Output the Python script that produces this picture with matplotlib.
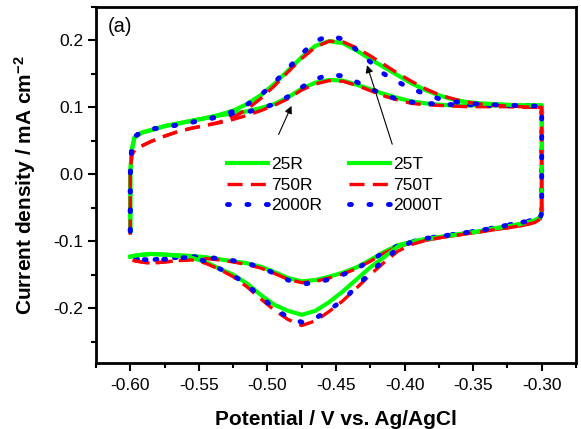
import matplotlib
matplotlib.use("Agg")
import matplotlib.pyplot as plt

plt.rcParams['font.family'] = ['Liberation Sans', 'DejaVu Sans']
plt.rcParams['axes.unicode_minus'] = False
plt.rcParams['mathtext.fontset'] = 'custom'
plt.rcParams['mathtext.rm'] = 'Liberation Sans'
plt.rcParams['mathtext.bf'] = 'Liberation Sans:bold'

# ── Potential grids (V vs. Ag/AgCl) ───────────────────────
x_fwd = [-0.600, -0.600, -0.599, -0.597, -0.592, -0.585, -0.575, -0.565, -0.555, -0.545,
         -0.535, -0.525, -0.515, -0.505, -0.495, -0.485, -0.475, -0.465, -0.455, -0.445,
         -0.435, -0.425, -0.415, -0.405, -0.395, -0.385, -0.375, -0.365, -0.355, -0.345,
         -0.335, -0.325, -0.315, -0.305, -0.300]
x_rev = [-0.300, -0.300, -0.301, -0.305, -0.315, -0.325, -0.335, -0.345, -0.355, -0.365,
         -0.375, -0.385, -0.395, -0.405, -0.415, -0.425, -0.435, -0.445, -0.455, -0.465,
         -0.475, -0.485, -0.495, -0.505, -0.515, -0.525, -0.535, -0.545, -0.555, -0.565,
         -0.575, -0.585, -0.595, -0.600]

# ── Current density (mA cm-2), forward sweep ──────────────
r25_fwd = [-0.085, 0.000, 0.035, 0.055, 0.062, 0.066, 0.072, 0.076, 0.080, 0.084,
           0.088, 0.091, 0.094, 0.099, 0.105, 0.115, 0.128, 0.137, 0.141, 0.140,
           0.134, 0.127, 0.120, 0.114, 0.109, 0.106, 0.104, 0.103, 0.103, 0.103,
           0.103, 0.103, 0.103, 0.103, 0.103]
r750_fwd = [-0.090, 0.000, 0.028, 0.036, 0.042, 0.049, 0.057, 0.064, 0.069, 0.073,
            0.077, 0.082, 0.088, 0.095, 0.103, 0.113, 0.126, 0.135, 0.140, 0.139,
            0.133, 0.125, 0.117, 0.111, 0.106, 0.104, 0.103, 0.102, 0.101, 0.101,
            0.101, 0.101, 0.100, 0.100, 0.100]
r2000_fwd = [-0.085, 0.000, 0.040, 0.056, 0.063, 0.067, 0.071, 0.074, 0.078, 0.082,
             0.086, 0.089, 0.093, 0.098, 0.105, 0.116, 0.130, 0.142, 0.149, 0.147,
             0.138, 0.128, 0.119, 0.112, 0.108, 0.106, 0.105, 0.104, 0.104, 0.103,
             0.103, 0.103, 0.103, 0.102, 0.102]
t25_fwd = [-0.085, 0.000, 0.035, 0.055, 0.062, 0.066, 0.072, 0.076, 0.080, 0.084,
           0.089, 0.095, 0.105, 0.118, 0.135, 0.155, 0.175, 0.192, 0.199, 0.196,
           0.185, 0.172, 0.160, 0.148, 0.136, 0.126, 0.118, 0.112, 0.108, 0.106,
           0.105, 0.104, 0.103, 0.103, 0.103]
t750_fwd = [-0.090, 0.000, 0.028, 0.036, 0.042, 0.049, 0.057, 0.064, 0.069, 0.073,
            0.078, 0.085, 0.097, 0.113, 0.132, 0.153, 0.173, 0.190, 0.199, 0.198,
            0.189, 0.177, 0.164, 0.151, 0.139, 0.128, 0.119, 0.113, 0.108, 0.105,
            0.103, 0.102, 0.101, 0.100, 0.100]
t2000_fwd = [-0.085, 0.000, 0.040, 0.056, 0.063, 0.067, 0.071, 0.074, 0.078, 0.082,
             0.087, 0.094, 0.104, 0.118, 0.137, 0.158, 0.180, 0.199, 0.207, 0.202,
             0.186, 0.168, 0.150, 0.138, 0.128, 0.120, 0.113, 0.109, 0.106, 0.105,
             0.104, 0.103, 0.103, 0.102, 0.102]

# ── Current density (mA cm-2), reverse sweep ──────────────
r25_rev = [0.100, -0.056, -0.064, -0.069, -0.074, -0.078, -0.081, -0.085, -0.088, -0.091,
           -0.094, -0.097, -0.101, -0.106, -0.116, -0.128, -0.139, -0.147, -0.153, -0.158,
           -0.160, -0.155, -0.146, -0.138, -0.133, -0.130, -0.127, -0.124, -0.122, -0.121,
           -0.120, -0.119, -0.121, -0.123]
r750_rev = [0.100, -0.060, -0.067, -0.072, -0.077, -0.080, -0.083, -0.086, -0.089, -0.092,
            -0.095, -0.099, -0.103, -0.108, -0.118, -0.130, -0.141, -0.149, -0.155, -0.160,
            -0.162, -0.157, -0.148, -0.140, -0.135, -0.131, -0.128, -0.126, -0.127, -0.129,
            -0.131, -0.133, -0.130, -0.128]
r2000_rev = [0.100, -0.058, -0.064, -0.068, -0.072, -0.076, -0.080, -0.084, -0.087, -0.090,
             -0.093, -0.096, -0.101, -0.107, -0.117, -0.129, -0.141, -0.150, -0.157, -0.162,
             -0.164, -0.158, -0.148, -0.139, -0.133, -0.129, -0.126, -0.124, -0.123, -0.124,
             -0.126, -0.128, -0.127, -0.126]
t25_rev = [0.100, -0.056, -0.064, -0.069, -0.074, -0.078, -0.081, -0.085, -0.088, -0.091,
           -0.094, -0.097, -0.101, -0.108, -0.124, -0.139, -0.157, -0.175, -0.191, -0.204,
           -0.210, -0.204, -0.195, -0.180, -0.163, -0.150, -0.141, -0.131, -0.125, -0.122,
           -0.120, -0.119, -0.121, -0.123]
t750_rev = [0.100, -0.060, -0.067, -0.072, -0.077, -0.080, -0.083, -0.086, -0.089, -0.092,
            -0.095, -0.099, -0.105, -0.115, -0.132, -0.150, -0.170, -0.189, -0.205, -0.219,
            -0.226, -0.217, -0.203, -0.186, -0.168, -0.153, -0.142, -0.133, -0.128, -0.129,
            -0.131, -0.133, -0.130, -0.128]
t2000_rev = [0.100, -0.058, -0.064, -0.068, -0.072, -0.076, -0.080, -0.084, -0.087, -0.090,
             -0.093, -0.096, -0.101, -0.111, -0.128, -0.147, -0.168, -0.188, -0.203, -0.215,
             -0.221, -0.214, -0.200, -0.183, -0.165, -0.151, -0.141, -0.130, -0.124, -0.125,
             -0.127, -0.128, -0.127, -0.126]

labels = ['25R', '750R', '2000R', '25T', '750T', '2000T']
fwd = [r25_fwd, r750_fwd, r2000_fwd, t25_fwd, t750_fwd, t2000_fwd]
rev = [r25_rev, r750_rev, r2000_rev, t25_rev, t750_rev, t2000_rev]

styles = [
    dict(color='#00FF00', lw=3.0, linestyle='-'),
    dict(color='#FF0000', lw=2.4, linestyle=(0, (4.5, 2.5))),
    dict(color='#0000FF', lw=3.5, linestyle=(0, (0.4, 3.6)), dash_capstyle='round'),
]

fig = plt.figure(figsize=(5.81, 4.29), dpi=100)
ax = fig.add_axes([96/581, 1 - 363/429, 480/581, 356/429])

x_loop = x_fwd + x_rev
for i, lab in enumerate(labels):
    ax.plot(x_loop, fwd[i] + rev[i], label=lab, **styles[i % 3])

ax.set_xlim(-0.625, -0.275)
ax.set_ylim(-0.282, 0.25)
ax.set_xticks([-0.60, -0.55, -0.50, -0.45, -0.40, -0.35, -0.30])
ax.set_xticks([-0.625, -0.575, -0.525, -0.475, -0.425, -0.375, -0.325, -0.275], minor=True)
ax.set_yticks([-0.2, -0.1, 0.0, 0.1, 0.2])
ax.set_yticks([-0.25, -0.15, -0.05, 0.05, 0.15, 0.25], minor=True)
ax.xaxis.set_major_formatter(matplotlib.ticker.FormatStrFormatter('%.2f'))
ax.yaxis.set_major_formatter(matplotlib.ticker.FormatStrFormatter('%.1f'))
ax.tick_params(which='major', direction='out', length=6, width=1.5, labelsize=12.5, pad=3)
ax.tick_params(which='minor', direction='out', length=3.5, width=1.5)
ax.tick_params(axis='x', which='major', pad=5)
for s in ax.spines.values():
    s.set_linewidth(2)

ax.set_xlabel('Potential / V vs. Ag/AgCl', fontsize=15, fontweight='bold', labelpad=12)
ax.set_ylabel(r'Current density / mA cm$\mathbf{^{-2}}$', fontsize=15, fontweight='bold', labelpad=11)

ax.text(0.025, 0.972, '(a)', transform=ax.transAxes, fontsize=14.5, va='top', ha='left')

ax.legend(ncol=2, frameon=False, fontsize=12.5, loc='upper left',
          bbox_to_anchor=(0.272, 0.578), borderaxespad=0, borderpad=0,
          handlelength=2.4, handletextpad=0.15, columnspacing=1.55, labelspacing=0.3)

arrow = dict(arrowstyle='-|>', color='k', lw=0.8, mutation_scale=11)
ax.annotate('', xy=(-0.4816, 0.106), xytext=(-0.4927, 0.0557), arrowprops=arrow)
ax.annotate('', xy=(-0.428, 0.167), xytext=(-0.4084, 0.041), arrowprops=arrow)

plt.savefig('out.png', dpi=100)
